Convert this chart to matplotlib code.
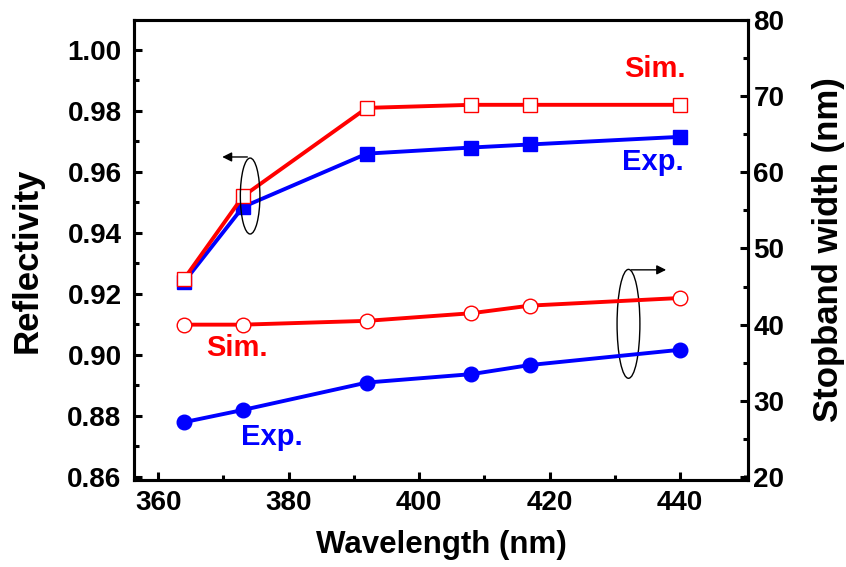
import matplotlib.pyplot as plt
from matplotlib.patches import Ellipse
from matplotlib.ticker import MultipleLocator

plt.rcParams['font.family'] = ['Liberation Sans', 'DejaVu Sans']
plt.rcParams['font.weight'] = 'bold'

# data
wavelength = [364, 373, 392, 408, 417, 440]
refl_sim = [0.925, 0.952, 0.981, 0.982, 0.982, 0.982]
refl_exp = [0.924, 0.9485, 0.966, 0.968, 0.969, 0.9715]
stop_sim = [40.0, 40.0, 40.5, 41.5, 42.5, 43.5]
stop_exp = [27.2, 28.8, 32.4, 33.5, 34.7, 36.7]

fig = plt.figure(figsize=(8.46, 5.67), dpi=100)
ax = fig.add_axes([0.1584, 0.1534, 0.7256, 0.8113])
ax2 = ax.twinx()

ax.plot(wavelength, refl_exp, color='blue', lw=2.8, marker='s', ms=9.5, zorder=3)
ax.plot(wavelength, refl_sim, color='red', lw=2.8, marker='s', ms=9.5,
        mfc='white', mec='red', mew=1, zorder=4)
ax2.plot(wavelength, stop_sim, color='red', lw=2.8, marker='o', ms=10.5,
         mfc='white', mec='red', mew=1)
ax2.plot(wavelength, stop_exp, color='blue', lw=2.8, marker='o', ms=10.5)

ax.set_xlim(356.3, 450.4)
ax.set_ylim(0.859, 1.0098)
ax2.set_ylim(19.6, 80)

ax.xaxis.set_major_locator(MultipleLocator(20))
ax.xaxis.set_minor_locator(MultipleLocator(10))
ax.yaxis.set_major_locator(MultipleLocator(0.02))
ax.yaxis.set_minor_locator(MultipleLocator(0.01))
ax2.yaxis.set_major_locator(MultipleLocator(10))
ax2.yaxis.set_minor_locator(MultipleLocator(5))
ax.yaxis.set_major_formatter(plt.FormatStrFormatter('%.2f'))

for a in (ax, ax2):
    a.tick_params(which='major', direction='in', length=6, width=2.2, labelsize=20)
    a.tick_params(which='minor', direction='in', length=3.5, width=2.2)
    for s in a.spines.values():
        s.set_linewidth(2.2)
ax.tick_params(axis='y', which='both', right=False, pad=9)
ax.tick_params(axis='x', which='both', top=False, pad=7)
ax2.tick_params(axis='y', which='major', pad=4)

ax.set_xlabel('Wavelength (nm)', fontsize=22.5, fontweight='bold', labelpad=10)
ax.set_ylabel('Reflectivity', fontsize=25, fontweight='bold')
ax.yaxis.set_label_coords(-0.147, 0.478)
ax2.set_ylabel('Stopband width (nm)', fontsize=25, fontweight='bold', labelpad=20)

ax.text(436.2, 0.9911, 'Sim.', color='red', fontsize=21, fontweight='bold', ha='center', va='baseline')
ax.text(435.9, 0.9607, 'Exp.', color='blue', fontsize=21, fontweight='bold', ha='center', va='baseline')
ax.text(372.1, 0.8997, 'Sim.', color='red', fontsize=21, fontweight='bold', ha='center', va='baseline')
ax.text(377.5, 0.8705, 'Exp.', color='blue', fontsize=21, fontweight='bold', ha='center', va='baseline')

# ellipses with arrows pointing to the relevant axis
ax.add_patch(Ellipse((374.1, 0.9521), 3.0, 0.0249, fill=False, ec='black', lw=1, zorder=5))
ax.annotate('', xy=(369.4, 0.9649), xytext=(374.1, 0.9649),
            arrowprops=dict(arrowstyle='-|>', color='black', lw=1, mutation_scale=14))
ax.add_patch(Ellipse((432.1, 0.9102), 3.5, 0.0357, fill=False, ec='black', lw=1, zorder=5))
ax.annotate('', xy=(438.3, 0.9279), xytext=(432.1, 0.9279),
            arrowprops=dict(arrowstyle='-|>', color='black', lw=1, mutation_scale=14))

fig.savefig('out.png', dpi=100)
